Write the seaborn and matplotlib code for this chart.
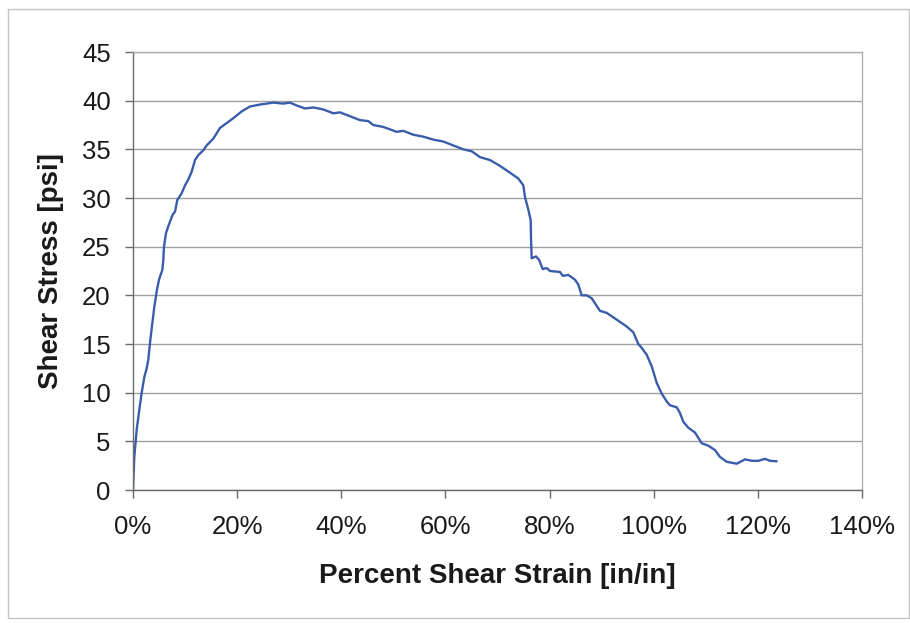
import matplotlib
matplotlib.use("Agg")
import matplotlib.pyplot as plt
from matplotlib.ticker import PercentFormatter
from matplotlib.patches import Rectangle
import pandas as pd
import seaborn as sns

# Shear test record: strain in percent, stress in psi
strain_pct = [
    0.0, 0.25, 0.71, 1.15, 1.67, 2.17, 2.63, 2.94, 3.26, 3.59, 4.09, 4.55,
    4.99, 5.63, 5.82, 5.95, 6.34, 6.78, 7.62, 8.07, 8.51, 8.89, 9.35, 9.99,
    10.62, 11.27, 11.91, 12.54, 13.50, 14.15, 15.42, 16.71, 18.00, 19.26,
    20.88, 22.47, 24.39, 26.94, 28.86, 30.15, 31.44, 33.03, 34.63, 36.55,
    38.47, 39.75, 41.67, 43.60, 45.19, 46.15, 48.07, 50.64, 51.91, 53.83,
    55.75, 57.67, 59.59, 61.51, 63.43, 65.05, 66.64, 68.56, 70.48, 72.40,
    74.00, 74.96, 75.28, 75.92, 76.38, 76.44, 76.57, 77.40, 78.03, 78.68,
    79.45, 80.08, 82.01, 82.53, 83.60, 84.89, 85.52, 86.17, 87.13, 88.09,
    89.69, 90.97, 92.89, 94.81, 96.08, 97.04, 97.69, 98.65, 99.62, 100.58,
    101.54, 102.50, 103.13, 104.42, 105.05, 105.69, 106.65, 107.93, 109.22,
    110.49, 111.77, 112.73, 114.02, 115.94, 117.53, 118.82, 120.09, 121.37,
    122.33, 123.62,
]
stress_psi = [
    0.0, 3.4, 6.2, 8.0, 10.0, 11.6, 12.5, 13.4, 15.1, 16.6, 18.8, 20.4,
    21.6, 22.6, 23.6, 25.0, 26.4, 27.1, 28.3, 28.6, 29.8, 30.1, 30.5, 31.3,
    31.9, 32.7, 33.9, 34.4, 34.9, 35.4, 36.1, 37.2, 37.7, 38.2,
    38.9, 39.4, 39.6, 39.8, 39.7, 39.8, 39.5, 39.2, 39.3, 39.1,
    38.7, 38.8, 38.4, 38.0, 37.9, 37.5, 37.3, 36.8, 36.9, 36.5,
    36.3, 36.0, 35.8, 35.4, 35.0, 34.8, 34.2, 33.9, 33.3, 32.6,
    32.0, 31.3, 30.1, 28.8, 27.7, 25.7, 23.8, 24.0, 23.6, 22.7,
    22.8, 22.5, 22.4, 22.0, 22.1, 21.6, 21.1, 20.0, 20.0, 19.7,
    18.4, 18.2, 17.5, 16.8, 16.2, 15.0, 14.6, 13.9, 12.7, 11.0,
    9.9, 9.1, 8.7, 8.5, 7.9, 7.0, 6.4, 5.9, 4.8,
    4.55, 4.1, 3.4, 2.9, 2.7, 3.15, 3.0, 3.0, 3.2,
    3.0, 2.95,
]

x_ticks = [0, 20, 40, 60, 80, 100, 120, 140]
y_ticks = [0, 5, 10, 15, 20, 25, 30, 35, 40, 45]

sns.set_theme(style="white")
plt.rcParams["font.family"] = ["Liberation Sans", "DejaVu Sans"]

df = pd.DataFrame({"strain": strain_pct, "stress": stress_psi})

fig = plt.figure(figsize=(9.10, 6.23), dpi=100)
fig.patch.set_facecolor("white")
ax = fig.add_axes([133 / 910, 133 / 623, 729 / 910, 438 / 623])

sns.lineplot(data=df, x="strain", y="stress", ax=ax, sort=False,
             estimator=None, color="#3a5dab", linewidth=1.7)

ax.set_xlim(0, 140)
ax.set_ylim(0, 45)
ax.set_xticks(x_ticks)
ax.set_yticks(y_ticks)
ax.xaxis.set_major_formatter(PercentFormatter(xmax=100, decimals=0))

ax.yaxis.grid(True, color="#a0a0a0", linewidth=1.0)
ax.xaxis.grid(False)
ax.set_axisbelow(True)

for side in ("top", "right"):
    ax.spines[side].set_color("#b0b0b0")
    ax.spines[side].set_linewidth(1.0)
for side in ("left", "bottom"):
    ax.spines[side].set_color("#6a6a6a")
    ax.spines[side].set_linewidth(1.0)

ax.tick_params(axis="both", which="major", direction="out", length=6,
               width=1.0, color="#6a6a6a", labelsize=18.5, labelcolor="#1a1a1a")
ax.tick_params(axis="x", pad=12, bottom=True)
ax.tick_params(axis="y", pad=10, left=True)

ax.set_xlabel("Percent Shear Strain [in/in]", fontsize=20, fontweight="bold",
              color="#1a1a1a", labelpad=17)
ax.set_ylabel("Shear Stress [psi]", fontsize=20, fontweight="bold",
              color="#1a1a1a", labelpad=13)

# outer chart border
fig.patches.append(Rectangle((8 / 910, 5 / 623), 901 / 910, 609 / 623,
                             transform=fig.transFigure, fill=False,
                             edgecolor="#c4c4c4", linewidth=1.0))

fig.savefig("out.png", dpi=100, facecolor="white")
